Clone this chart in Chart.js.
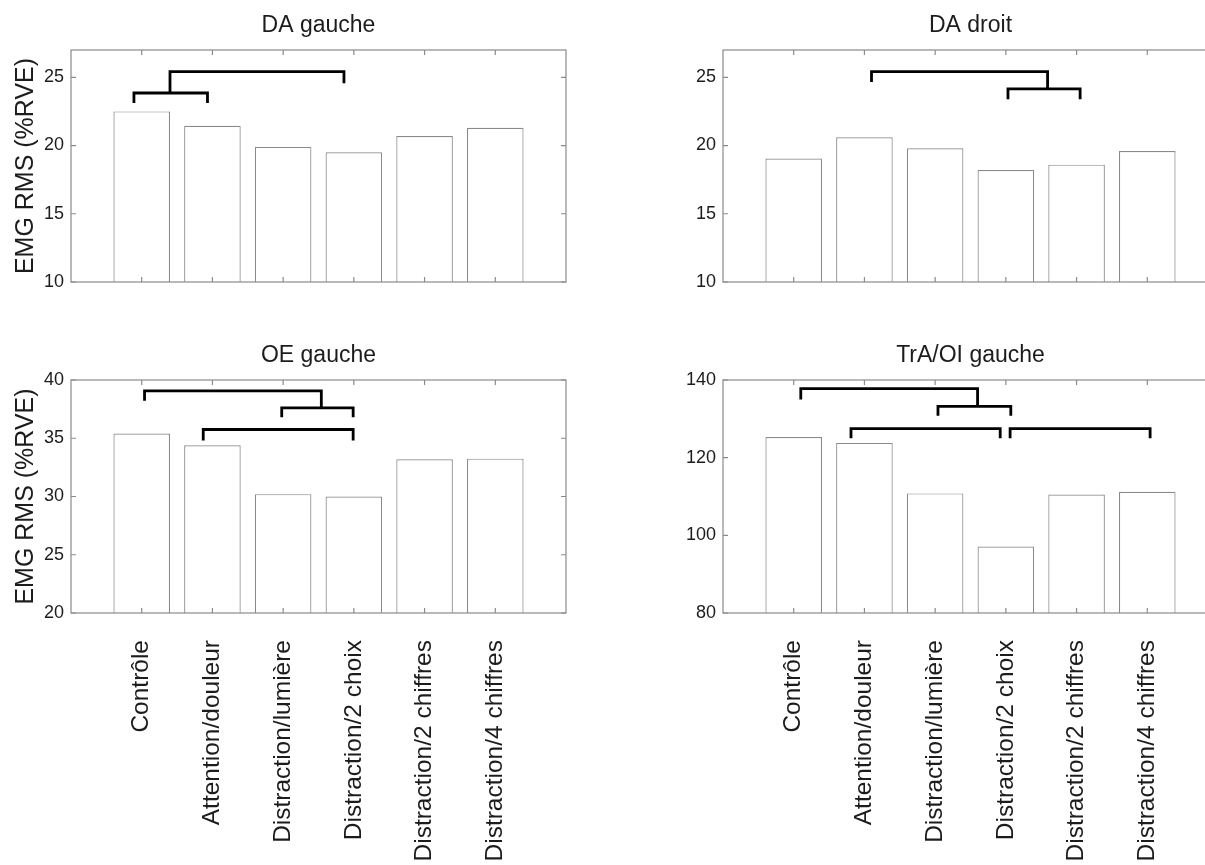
<!DOCTYPE html>
<html>
<head>
<meta charset="utf-8">
<title>EMG RMS</title>
<script src="https://cdn.jsdelivr.net/npm/chart.js@4.4.0/dist/chart.umd.min.js"></script>
<style>
  html, body { margin: 0; padding: 0; background: #ffffff; }
  body { position: relative; width: 1205px; height: 865px; overflow: hidden; }
  .panel { position: absolute; }
</style>
</head>
<body>
<div class="panel" style="left:0px;top:0px;width:620px;height:300px"><canvas id="daGauche"></canvas></div>
<div class="panel" style="left:600px;top:0px;width:640px;height:300px"><canvas id="daDroit"></canvas></div>
<div class="panel" style="left:0px;top:330px;width:620px;height:535px"><canvas id="oeGauche"></canvas></div>
<div class="panel" style="left:600px;top:330px;width:640px;height:535px"><canvas id="traGauche"></canvas></div>
<script>
// Conditions (x axis categories, positions 1..6)
const categories = [
  'Contrôle',
  'Attention/douleur',
  'Distraction/lumière',
  'Distraction/2 choix',
  'Distraction/2 chiffres',
  'Distraction/4 chiffres'
];

// Mean EMG RMS (%RVE) per condition
const daGaucheValues  = [22.5, 21.45, 19.9, 19.5, 20.7, 21.3];
const daDroitValues   = [19.05, 20.6, 19.8, 18.2, 18.6, 19.6];
const oeGaucheValues  = [35.4, 34.4, 30.2, 30.0, 33.2, 33.25];
const traGaucheValues = [125.3, 123.8, 110.8, 97.1, 110.5, 111.2];

// Y tick values
const ticksDA  = [10, 15, 20, 25];
const ticksOE  = [20, 25, 30, 35, 40];
const ticksTrA = [80, 100, 120, 140];

// Significance brackets: [xStart, xEnd, yTop, yLegStart, yLegEnd] (x in condition positions)
const bracketsDaGauche = [
  [0.89, 1.93, 23.85, 23.12, 23.12],
  [1.40, 3.86, 25.41, 23.85, 24.56]
];
const bracketsDaDroit = [
  [2.10, 4.59, 25.41, 24.65, 24.15],
  [4.03, 5.05, 24.15, 23.40, 23.40]
];
const bracketsOeGauche = [
  [1.04, 3.54, 39.07, 38.21, 37.60],
  [2.98, 3.99, 37.60, 36.80, 36.80],
  [1.87, 3.99, 35.75, 34.80, 34.80]
];
const bracketsTraGauche = [
  [1.10, 3.60, 137.8, 135.0, 133.2],
  [3.04, 4.07, 133.2, 130.8, 130.8],
  [1.81, 3.92, 127.5, 125.0, 125.0],
  [4.06, 6.04, 127.5, 125.0, 125.0]
];

const FONT = "'Liberation Sans', Arial, Helvetica, sans-serif";
const TEXT = '#1c1c1c';
const EDGE = '#8a8a8a';

// Box around the axes with short inward tick marks on all four sides
const axesBox = {
  id: 'axesBox',
  afterDatasetsDraw(chart) {
    const { ctx, chartArea: a, scales: { x, y } } = chart;
    const t = 5;
    ctx.save();
    ctx.strokeStyle = EDGE;
    ctx.lineWidth = 1.2;
    ctx.strokeRect(a.left, a.top, a.right - a.left, a.bottom - a.top);
    ctx.beginPath();
    x.ticks.forEach(tk => {
      const px = x.getPixelForValue(tk.value);
      ctx.moveTo(px, a.bottom); ctx.lineTo(px, a.bottom - t);
      ctx.moveTo(px, a.top);    ctx.lineTo(px, a.top + t);
    });
    y.ticks.forEach(tk => {
      const py = y.getPixelForValue(tk.value);
      ctx.moveTo(a.left, py);  ctx.lineTo(a.left + t, py);
      ctx.moveTo(a.right, py); ctx.lineTo(a.right - t, py);
    });
    ctx.stroke();
    ctx.restore();
  }
};

function bracketDataset(b) {
  const [x1, x2, yTop, yL, yR] = b;
  return {
    type: 'line',
    data: [{ x: x1, y: yL }, { x: x1, y: yTop }, { x: x2, y: yTop }, { x: x2, y: yR }],
    borderColor: '#000000',
    borderWidth: 2.8,
    borderJoinStyle: 'miter',
    borderCapStyle: 'butt',
    pointRadius: 0,
    tension: 0,
    fill: false,
    order: 0
  };
}

function makePanel(id, cfg) {
  const datasets = [{
    type: 'bar',
    data: cfg.values.map((v, i) => ({ x: i + 1, y: v })),
    base: cfg.yMin,
    backgroundColor: '#ffffff',
    borderColor: EDGE,
    borderWidth: 1.2,
    barPercentage: 0.8,
    categoryPercentage: 1.0,
    order: 1
  }].concat(cfg.brackets.map(bracketDataset));

  new Chart(document.getElementById(id), {
    type: 'bar',
    data: { datasets },
    plugins: [axesBox],
    options: {
      responsive: true,
      maintainAspectRatio: false,
      animation: false,
      layout: { padding: { left: 0, right: cfg.padRight, top: 0, bottom: 0 } },
      plugins: {
        legend: { display: false },
        tooltip: { enabled: false },
        title: {
          display: true,
          text: cfg.title,
          fullSize: false,
          color: TEXT,
          font: { family: FONT, size: 23, weight: 'normal' },
          padding: { top: 12.2, bottom: 10.2 }
        }
      },
      scales: {
        x: {
          type: 'linear',
          offset: false,
          min: 0,
          max: 7,
          afterBuildTicks: s => { s.ticks = categories.map((c, i) => ({ value: i + 1 })); },
          afterFit: s => { s.height = cfg.xHeight; },
          grid: { display: false, drawTicks: false },
          border: { display: false },
          ticks: {
            display: cfg.showLabels,
            autoSkip: false,
            minRotation: 90,
            maxRotation: 90,
            padding: 27,
            color: TEXT,
            font: { family: FONT, size: 24.5 },
            callback: v => categories[v - 1]
          }
        },
        y: {
          min: cfg.yMin,
          max: cfg.yMax,
          afterBuildTicks: s => { s.ticks = cfg.yTicks.map(v => ({ value: v })); },
          afterFit: s => { s.width = cfg.yWidth; },
          grid: { display: false, drawTicks: false },
          border: { display: false },
          ticks: { color: TEXT, padding: 7, font: { family: FONT, size: 18 } },
          title: {
            display: cfg.yTitle,
            text: 'EMG RMS (%RVE)',
            color: TEXT,
            font: { family: FONT, size: 25 },
            padding: { top: 11, bottom: 0 }
          }
        }
      }
    }
  });
}

makePanel('daGauche', {
  title: 'DA gauche', values: daGaucheValues, brackets: bracketsDaGauche,
  yMin: 10, yMax: 27, yTicks: ticksDA, yWidth: 71, padRight: 54,
  xHeight: 18, showLabels: false, yTitle: true
});
makePanel('daDroit', {
  title: 'DA droit', values: daDroitValues, brackets: bracketsDaDroit,
  yMin: 10, yMax: 27, yTicks: ticksDA, yWidth: 123, padRight: 22,
  xHeight: 18, showLabels: false, yTitle: false
});
makePanel('oeGauche', {
  title: 'OE gauche', values: oeGaucheValues, brackets: bracketsOeGauche,
  yMin: 20, yMax: 40, yTicks: ticksOE, yWidth: 71, padRight: 54,
  xHeight: 252, showLabels: true, yTitle: true
});
makePanel('traGauche', {
  title: 'TrA/OI gauche', values: traGaucheValues, brackets: bracketsTraGauche,
  yMin: 80, yMax: 140, yTicks: ticksTrA, yWidth: 123, padRight: 22,
  xHeight: 252, showLabels: true, yTitle: false
});
</script>
</body>
</html>
